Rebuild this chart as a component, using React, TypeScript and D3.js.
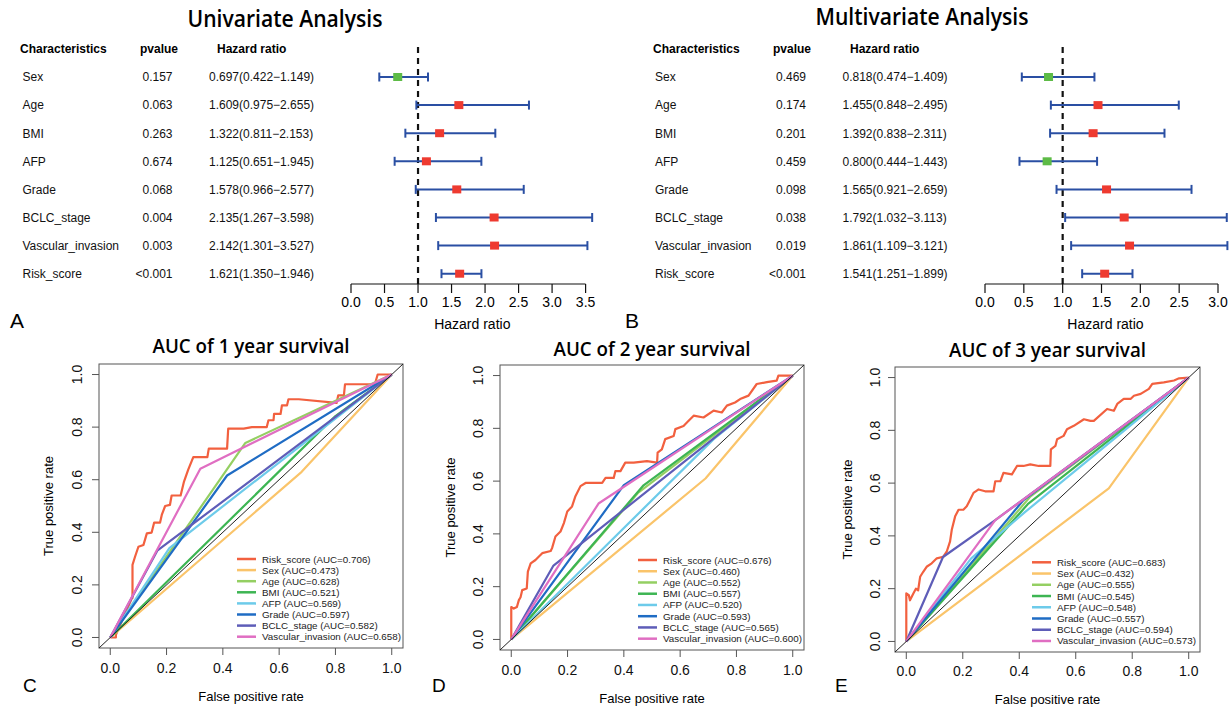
import React from 'react';
import * as d3 from 'd3';

// forest plot data
const characteristics = ['Sex', 'Age', 'BMI', 'AFP', 'Grade', 'BCLC_stage', 'Vascular_invasion', 'Risk_score'];

const uniPvalue = ['0.157', '0.063', '0.263', '0.674', '0.068', '0.004', '0.003', '<0.001'];
const uniHR = [0.697, 1.609, 1.322, 1.125, 1.578, 2.135, 2.142, 1.621];
const uniLow = [0.422, 0.975, 0.811, 0.651, 0.966, 1.267, 1.301, 1.35];
const uniHigh = [1.149, 2.655, 2.153, 1.945, 2.577, 3.598, 3.527, 1.946];

const multiPvalue = ['0.469', '0.174', '0.201', '0.459', '0.098', '0.038', '0.019', '<0.001'];
const multiHR = [0.818, 1.455, 1.392, 0.8, 1.565, 1.792, 1.861, 1.541];
const multiLow = [0.474, 0.848, 0.838, 0.444, 0.921, 1.032, 1.109, 1.251];
const multiHigh = [1.409, 2.495, 2.311, 1.443, 2.659, 3.113, 3.121, 1.899];

const uniTicks = [0, 0.5, 1, 1.5, 2, 2.5, 3, 3.5];
const multiTicks = [0, 0.5, 1, 1.5, 2, 2.5, 3];

// ROC data
const rocVariables = ['Risk_score', 'Sex', 'Age', 'BMI', 'AFP', 'Grade', 'BCLC_stage', 'Vascular_invasion'];
const rocColors = ['#F2603F', '#FAC46A', '#94CF62', '#3DB553', '#6DCBEA', '#1F6CC4', '#5E5DB8', '#E06EC2'];
const auc1 = [0.706, 0.473, 0.628, 0.521, 0.569, 0.597, 0.582, 0.658];
const auc2 = [0.676, 0.46, 0.552, 0.557, 0.52, 0.593, 0.565, 0.6];
const auc3 = [0.683, 0.432, 0.555, 0.545, 0.548, 0.557, 0.594, 0.573];
const rocTicks = [0, 0.2, 0.4, 0.6, 0.8, 1];

const risk1 = [
  [0, 0], [0.02, 0], [0.02, 0.01], [0.077, 0.15], [0.079, 0.15], [0.079, 0.276], [0.088, 0.307], [0.1, 0.345],
  [0.118, 0.352], [0.13, 0.396], [0.147, 0.399], [0.156, 0.437], [0.177, 0.437], [0.183, 0.466], [0.195, 0.5],
  [0.212, 0.504], [0.218, 0.54], [0.25, 0.54], [0.262, 0.593], [0.277, 0.638], [0.295, 0.686], [0.345, 0.686],
  [0.35, 0.718], [0.415, 0.718], [0.419, 0.794], [0.474, 0.794], [0.503, 0.8], [0.556, 0.8], [0.562, 0.826],
  [0.58, 0.826], [0.582, 0.85], [0.605, 0.85], [0.61, 0.883], [0.628, 0.883], [0.633, 0.906], [0.67, 0.906],
  [0.804, 0.892], [0.81, 0.921], [0.83, 0.921], [0.834, 0.963], [0.94, 0.963], [0.95, 1], [1, 1],
];
const risk2 = [
  [0, 0], [0, 0.123], [0.009, 0.117], [0.02, 0.123], [0.027, 0.149], [0.033, 0.16], [0.039, 0.187], [0.055, 0.193],
  [0.059, 0.257], [0.069, 0.288], [0.086, 0.301], [0.11, 0.327], [0.14, 0.335], [0.145, 0.346], [0.157, 0.39],
  [0.175, 0.409], [0.187, 0.441], [0.199, 0.485], [0.216, 0.504], [0.228, 0.543], [0.246, 0.581], [0.264, 0.593],
  [0.323, 0.593], [0.335, 0.612], [0.364, 0.612], [0.37, 0.638], [0.388, 0.638], [0.405, 0.67], [0.435, 0.67],
  [0.482, 0.676], [0.518, 0.67], [0.52, 0.708], [0.535, 0.72], [0.547, 0.759], [0.577, 0.771], [0.583, 0.797],
  [0.612, 0.809], [0.624, 0.822], [0.648, 0.848], [0.683, 0.841], [0.719, 0.867], [0.748, 0.86], [0.766, 0.886],
  [0.795, 0.898], [0.813, 0.911], [0.843, 0.924], [0.872, 0.968], [0.908, 0.975], [0.943, 0.981], [0.949, 1], [1, 1],
];
const risk3 = [
  [0, 0], [0, 0.182], [0.009, 0.175], [0.013, 0.156], [0.025, 0.182], [0.034, 0.2], [0.042, 0.194], [0.049, 0.245],
  [0.06, 0.264], [0.072, 0.283], [0.09, 0.296], [0.108, 0.315], [0.131, 0.321], [0.143, 0.34], [0.155, 0.379],
  [0.161, 0.423], [0.173, 0.474], [0.185, 0.499], [0.202, 0.499], [0.214, 0.512], [0.226, 0.537], [0.238, 0.563],
  [0.256, 0.576], [0.279, 0.569], [0.309, 0.569], [0.315, 0.607], [0.333, 0.607], [0.344, 0.639], [0.374, 0.633],
  [0.392, 0.665], [0.415, 0.665], [0.439, 0.671], [0.469, 0.665], [0.51, 0.665], [0.512, 0.728], [0.528, 0.741],
  [0.534, 0.766], [0.557, 0.779], [0.569, 0.804], [0.593, 0.817], [0.629, 0.842], [0.652, 0.836], [0.664, 0.836],
  [0.711, 0.881], [0.735, 0.874], [0.747, 0.9], [0.77, 0.919], [0.794, 0.919], [0.806, 0.931], [0.83, 0.938],
  [0.859, 0.957], [0.871, 0.976], [0.912, 0.982], [0.948, 0.989], [0.966, 0.997], [1, 1],
];

const roc1 = [
  risk1,
  [[0, 0], [0.68, 0.63], [1, 1]],
  [[0, 0], [0.48, 0.74], [1, 1]],
  [[0, 0], [0.8, 0.842], [1, 1]],
  [[0, 0], [0.21, 0.34], [1, 1]],
  [[0, 0], [0.415, 0.616], [1, 1]],
  [[0, 0], [0.167, 0.33], [1, 1]],
  [[0, 0], [0.32, 0.642], [1, 1]],
];
const roc2 = [
  risk2,
  [[0, 0], [0.69, 0.61], [1, 1]],
  [[0, 0], [0.45, 0.555], [1, 1]],
  [[0, 0], [0.47, 0.584], [1, 1]],
  [[0, 0], [0.72, 0.76], [1, 1]],
  [[0, 0], [0.4, 0.585], [1, 1]],
  [[0, 0], [0.15, 0.28], [1, 1]],
  [[0, 0], [0.31, 0.515], [1, 1]],
];
const roc3 = [
  risk3,
  [[0, 0], [0.717, 0.58], [1, 1]],
  [[0, 0], [0.44, 0.55], [1, 1]],
  [[0, 0], [0.43, 0.52], [1, 1]],
  [[0, 0], [0.23, 0.315], [0.42, 0.49], [1, 1]],
  [[0, 0], [0.415, 0.536], [1, 1]],
  [[0, 0], [0.13, 0.32], [0.315, 0.46], [1, 1]],
  [[0, 0], [0.315, 0.46], [1, 1]],
];

const SANS = '"Liberation Sans", Arial, sans-serif';
const TITLE = '"Open Sans", sans-serif';

function Forest({ title, letter, titleX, titleY, titleW, letterX, head, labelX, pvX, hrX, x0, x1, ticks, pv, hr, low, high }) {
  const x = d3.scaleLinear().domain([0, ticks[ticks.length - 1]]).range([x0, x1]);
  const y = d3.scalePoint().domain(characteristics).range([77, 77 + 7 * 28.1]);
  const axisY = 284;
  return (
    <g>
      <text x={titleX} y={titleY} textAnchor="middle" fontFamily={TITLE} fontWeight={600} fontSize={23}
        textLength={titleW} lengthAdjust="spacingAndGlyphs">{title}</text>
      <g fontFamily={SANS} fontWeight="bold" fontSize={12}>
        <text x={head[0]} y={53}>Characteristics</text>
        <text x={head[1]} y={53}>pvalue</text>
        <text x={head[2]} y={53}>Hazard ratio</text>
      </g>
      <g fontFamily={SANS} fontSize={12} fill="#111">
        {characteristics.map((c, i) => (
          <g key={c}>
            <text x={labelX} y={y(c) + 4.3}>{c}</text>
            <text x={pvX} y={y(c) + 4.3} textAnchor="end">{pv[i]}</text>
            <text x={hrX} y={y(c) + 4.3}>{`${hr[i].toFixed(3)}(${low[i].toFixed(3)}\u2212${high[i].toFixed(3)})`}</text>
          </g>
        ))}
      </g>
      <line x1={x(1)} x2={x(1)} y1={47} y2={axisY} stroke="#111" strokeWidth={2.2} strokeDasharray="6,5" />
      {characteristics.map((c, i) => (
        <g key={c}>
          <line x1={x(low[i])} x2={x(high[i])} y1={y(c)} y2={y(c)} stroke="#2A4FA3" strokeWidth={2} />
          <line x1={x(low[i])} x2={x(low[i])} y1={y(c) - 4.5} y2={y(c) + 4.5} stroke="#2A4FA3" strokeWidth={2} />
          <line x1={x(high[i])} x2={x(high[i])} y1={y(c) - 4.5} y2={y(c) + 4.5} stroke="#2A4FA3" strokeWidth={2} />
          <rect x={x(hr[i]) - 4.5} y={y(c) - 4} width={9} height={8} fill={hr[i] > 1 ? '#EE3A30' : '#5DBB46'} />
        </g>
      ))}
      <line x1={x0} x2={x1} y1={axisY} y2={axisY} stroke="#111" strokeWidth={1.2} />
      {ticks.map(t => (
        <g key={t}>
          <line x1={x(t)} x2={x(t)} y1={axisY} y2={axisY + 9} stroke="#111" strokeWidth={1.2} />
          <text x={x(t)} y={307} textAnchor="middle" fontFamily={SANS} fontSize={14}>{t.toFixed(1)}</text>
        </g>
      ))}
      <text x={(x0 + x1) / 2 + 4} y={329} textAnchor="middle" fontFamily={SANS} fontSize={14}>Hazard ratio</text>
      <text x={letterX} y={328} fontFamily={SANS} fontSize={21}>{letter}</text>
    </g>
  );
}

function Roc({ box, title, titleY, letter, letterX, ylabX, ytickX, xtickY, legend, curves, auc }) {
  const x = d3.scaleLinear().domain([-0.04, 1.04]).range([box.l, box.r]);
  const y = d3.scaleLinear().domain([-0.04, 1.04]).range([box.b, box.t]);
  const line = d3.line().x(d => x(d[0])).y(d => y(d[1]));
  const cx = (box.l + box.r) / 2;
  const cy = (box.t + box.b) / 2;
  return (
    <g>
      <text x={cx} y={titleY} textAnchor="middle" fontFamily={TITLE} fontWeight={600} fontSize={20}
        textLength={197} lengthAdjust="spacingAndGlyphs">{title}</text>
      <rect x={box.l} y={box.t} width={box.r - box.l} height={box.b - box.t} fill="none" stroke="#555" strokeWidth={1} />
      {curves.map((c, i) => (
        <path key={i} d={line(c)} fill="none" stroke={rocColors[i]} strokeWidth={2.2} strokeLinejoin="round" />
      ))}
      <line x1={x(-0.04)} y1={y(-0.04)} x2={x(1.04)} y2={y(1.04)} stroke="#222" strokeWidth={1} />
      {rocTicks.map(t => (
        <g key={t} fontFamily={SANS} fontSize={14} fill="#111">
          <line x1={x(t)} x2={x(t)} y1={box.b} y2={box.b + 7} stroke="#555" />
          <text x={x(t)} y={xtickY} textAnchor="middle">{t.toFixed(1)}</text>
          <line x1={box.l - 7} x2={box.l} y1={y(t)} y2={y(t)} stroke="#555" />
          <text transform={`translate(${ytickX},${y(t)}) rotate(-90)`} textAnchor="middle" dy="0.35em">{t.toFixed(1)}</text>
        </g>
      ))}
      <text x={cx} y={xtickY + 28} textAnchor="middle" fontFamily={SANS} fontSize={13}>False positive rate</text>
      <text transform={`translate(${ylabX},${cy}) rotate(-90)`} textAnchor="middle" dy="0.35em" fontFamily={SANS} fontSize={13}>True positive rate</text>
      <text x={letterX} y={692} fontFamily={SANS} fontSize={19}>{letter}</text>
      {rocVariables.map((v, i) => {
        const ly = legend.y0 + i * legend.dy;
        return (
          <g key={v}>
            <line x1={legend.lx} x2={legend.lx + 19} y1={ly} y2={ly} stroke={rocColors[i]} strokeWidth={2.5} />
            <text x={legend.lx + 25} y={ly + 3.5} fontFamily={SANS} fontSize={9.8} fill="#222">{`${v} (AUC=${auc[i].toFixed(3)})`}</text>
          </g>
        );
      })}
    </g>
  );
}

export default function App() {
  return (
    <div style={{ position: 'absolute', left: 0, top: 0 }}>
      <svg width={1232} height={708} style={{ display: 'block', background: '#fff' }}>
        <Forest title="Univariate Analysis" letter="A" titleX={285} titleY={27} titleW={195} letterX={10}
          head={[20, 140, 217]} labelX={22.5} pvX={172.5} hrX={209} x0={351} x1={585.6}
          ticks={uniTicks} pv={uniPvalue} hr={uniHR} low={uniLow} high={uniHigh} />
        <Forest title="Multivariate Analysis" letter="B" titleX={922} titleY={25} titleW={213} letterX={625}
          head={[653, 773, 850]} labelX={655} pvX={806} hrX={842.5} x0={985} x1={1218}
          ticks={multiTicks} pv={multiPvalue} hr={multiHR} low={multiLow} high={multiHigh} />
        <Roc box={{ l: 99, r: 403, t: 364, b: 648 }} title="AUC of 1 year survival" titleY={353} letter="C" letterX={23}
          ylabX={48} ytickX={77} xtickY={673} legend={{ lx: 237, y0: 559, dy: 11.1 }} curves={roc1} auc={auc1} />
        <Roc box={{ l: 500, r: 804, t: 365, b: 650 }} title="AUC of 2 year survival" titleY={356} letter="D" letterX={432}
          ylabX={450} ytickX={478} xtickY={675} legend={{ lx: 638, y0: 560, dy: 11.24 }} curves={roc2} auc={auc2} />
        <Roc box={{ l: 895, r: 1200, t: 367, b: 652 }} title="AUC of 3 year survival" titleY={357} letter="E" letterX={835}
          ylabX={847} ytickX={875} xtickY={676} legend={{ lx: 1032, y0: 562.3, dy: 11.24 }} curves={roc3} auc={auc3} />
      </svg>
    </div>
  );
}
